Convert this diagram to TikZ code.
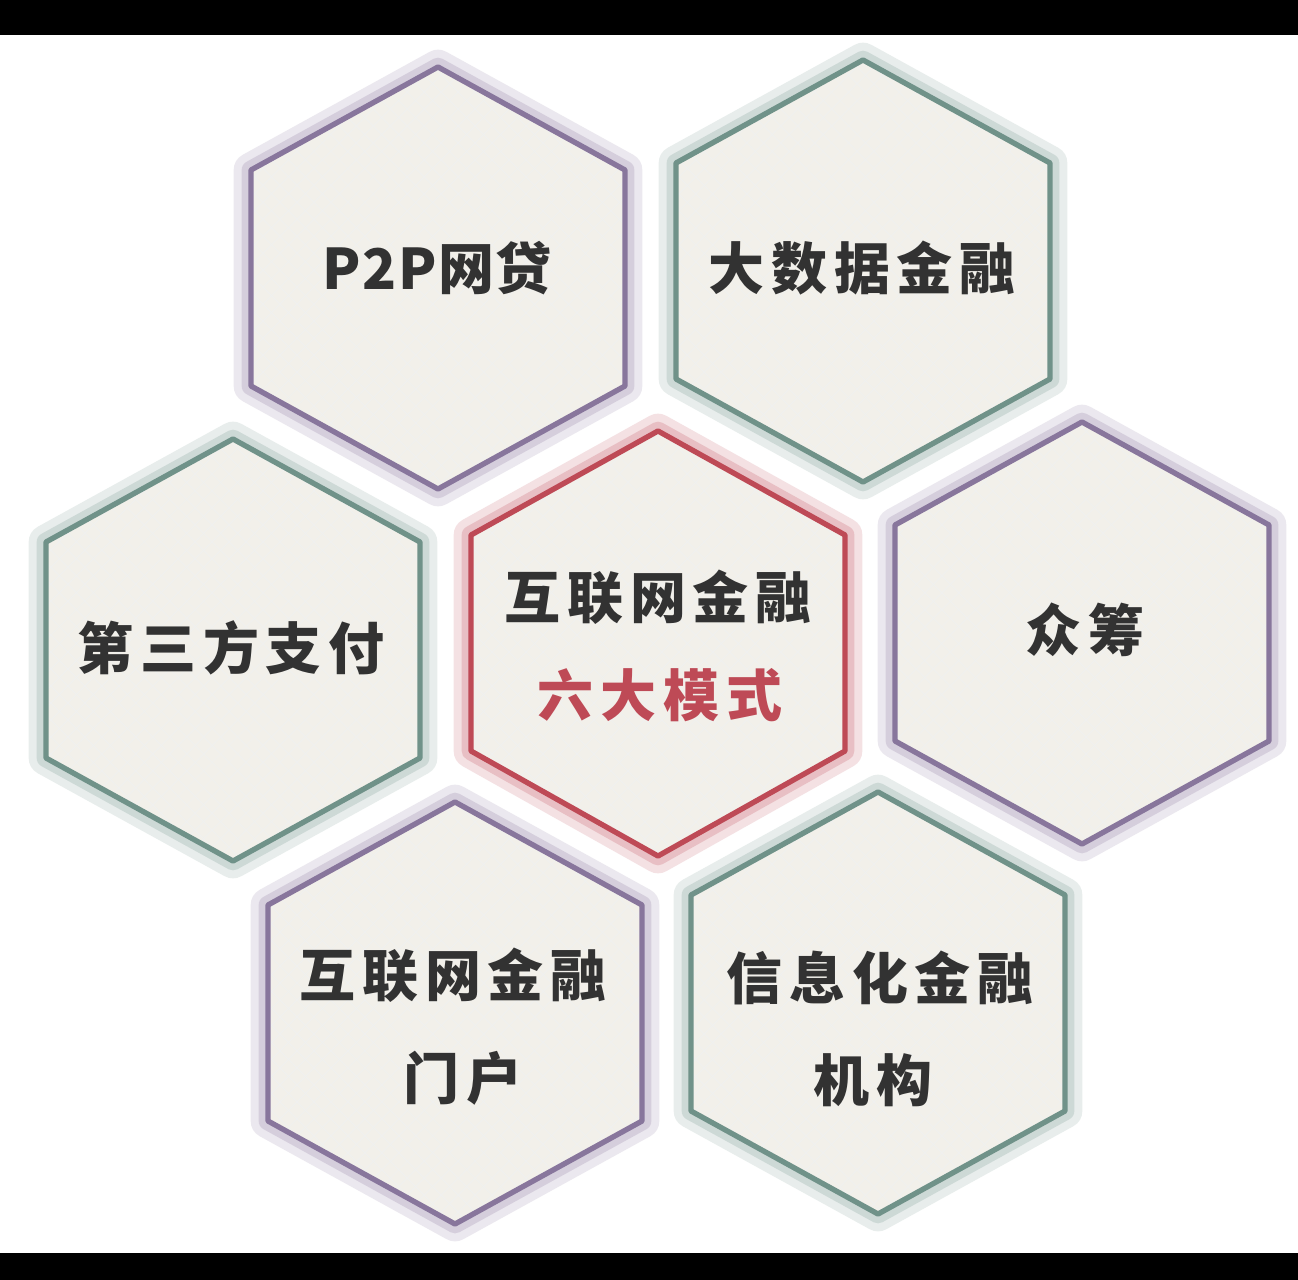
\documentclass[tikz,border=0pt]{standalone}
\usepackage{fontspec}
\usepackage{xcolor}
\usetikzlibrary{patterns.meta}
\newfontfamily\cjk{Noto Sans CJK SC}[LetterSpace=12]

\definecolor{hexfill}{RGB}{242,240,234}
\definecolor{hexpurple}{RGB}{136,118,156}
\definecolor{hexteal}{RGB}{112,146,137}
\definecolor{hexred}{RGB}{190,74,86}
\definecolor{hextext}{RGB}{50,50,50}

\tikzset{
  hexagon/.style={line width=4, line join=round,
    preaction={draw=#1, draw opacity=0.16, line width=26, line join=round},
    preaction={draw=#1, draw opacity=0.22, line width=14, line join=round},
    preaction={fill=hexfill},
    preaction={pattern={Lines[angle=45,distance=9pt,line width=0.5pt]}, pattern color=black!6},
    pattern={Lines[angle=-45,distance=9pt,line width=0.5pt]}, pattern color=black!6,
    draw=#1},
  hexlabel/.style={inner sep=0.75pt, font=\cjk\bfseries\fontsize{42}{50}\selectfont, text=hextext, align=center}
}

\begin{document}
\begin{tikzpicture}[x=0.75pt,y=0.75pt,yscale=-1,xscale=1]
\useasboundingbox (0,0) rectangle (1298,1280);
\fill[white] (0,0) rectangle (1298,1280);
%Shape: top and bottom bars
\fill[black] (0,0) rectangle (1298,35);
\fill[black] (0,1253) rectangle (1298,1280);

%Shape: Hexagon P2P
\draw[hexagon=hexpurple, shift={(438,278)}] (0,-211) -- (187,-108) -- (187,108) -- (0,211) -- (-187,108) -- (-187,-108) -- cycle ;
%Shape: Hexagon big data
\draw[hexagon=hexteal, shift={(863,271)}] (0,-211) -- (187,-108) -- (187,108) -- (0,211) -- (-187,108) -- (-187,-108) -- cycle ;
%Shape: Hexagon third party payment
\draw[hexagon=hexteal, shift={(233,650)}] (0,-211) -- (187,-108) -- (187,108) -- (0,211) -- (-187,108) -- (-187,-108) -- cycle ;
%Shape: Hexagon crowdfunding
\draw[hexagon=hexpurple, shift={(1082,633)}] (0,-211) -- (187,-108) -- (187,108) -- (0,211) -- (-187,108) -- (-187,-108) -- cycle ;
%Shape: Hexagon portal
\draw[hexagon=hexpurple, shift={(455,1013)}] (0,-211) -- (187,-108) -- (187,108) -- (0,211) -- (-187,108) -- (-187,-108) -- cycle ;
%Shape: Hexagon institutions
\draw[hexagon=hexteal, shift={(878,1003)}] (0,-211) -- (187,-108) -- (187,108) -- (0,211) -- (-187,108) -- (-187,-108) -- cycle ;
%Shape: Hexagon centre
\draw[hexagon=hexred, shift={(658,643)}] (0,-212) -- (187,-108) -- (187,108) -- (0,213) -- (-187,108) -- (-187,-108) -- cycle ;

% Text Node
\node[hexlabel] (ptop) at (437,268) {\addfontfeature{LetterSpace=3}P2P网贷};
% Text Node
\node[hexlabel] (bigdata) at (862,268) {大数据金融};
% Text Node
\node[hexlabel] (payment) at (231,648) {第三方支付};
% Text Node
\node[hexlabel] (crowd) at (1085,630) {众筹};
% Text Node
\node[hexlabel] (center) at (658,597) {互联网金融};
% Text Node
\node[hexlabel, text=hexred] (sixmodes) at (660,695) {六大模式};
% Text Node
\node[hexlabel] (portal) at (453,975) {互联网金融};
% Text Node
\node[hexlabel] (portalb) at (463,1078) {门户};
% Text Node
\node[hexlabel] (inst) at (880,978) {信息化金融};
% Text Node
\node[hexlabel] (instb) at (873,1080) {机构};
\end{tikzpicture}
\end{document}
